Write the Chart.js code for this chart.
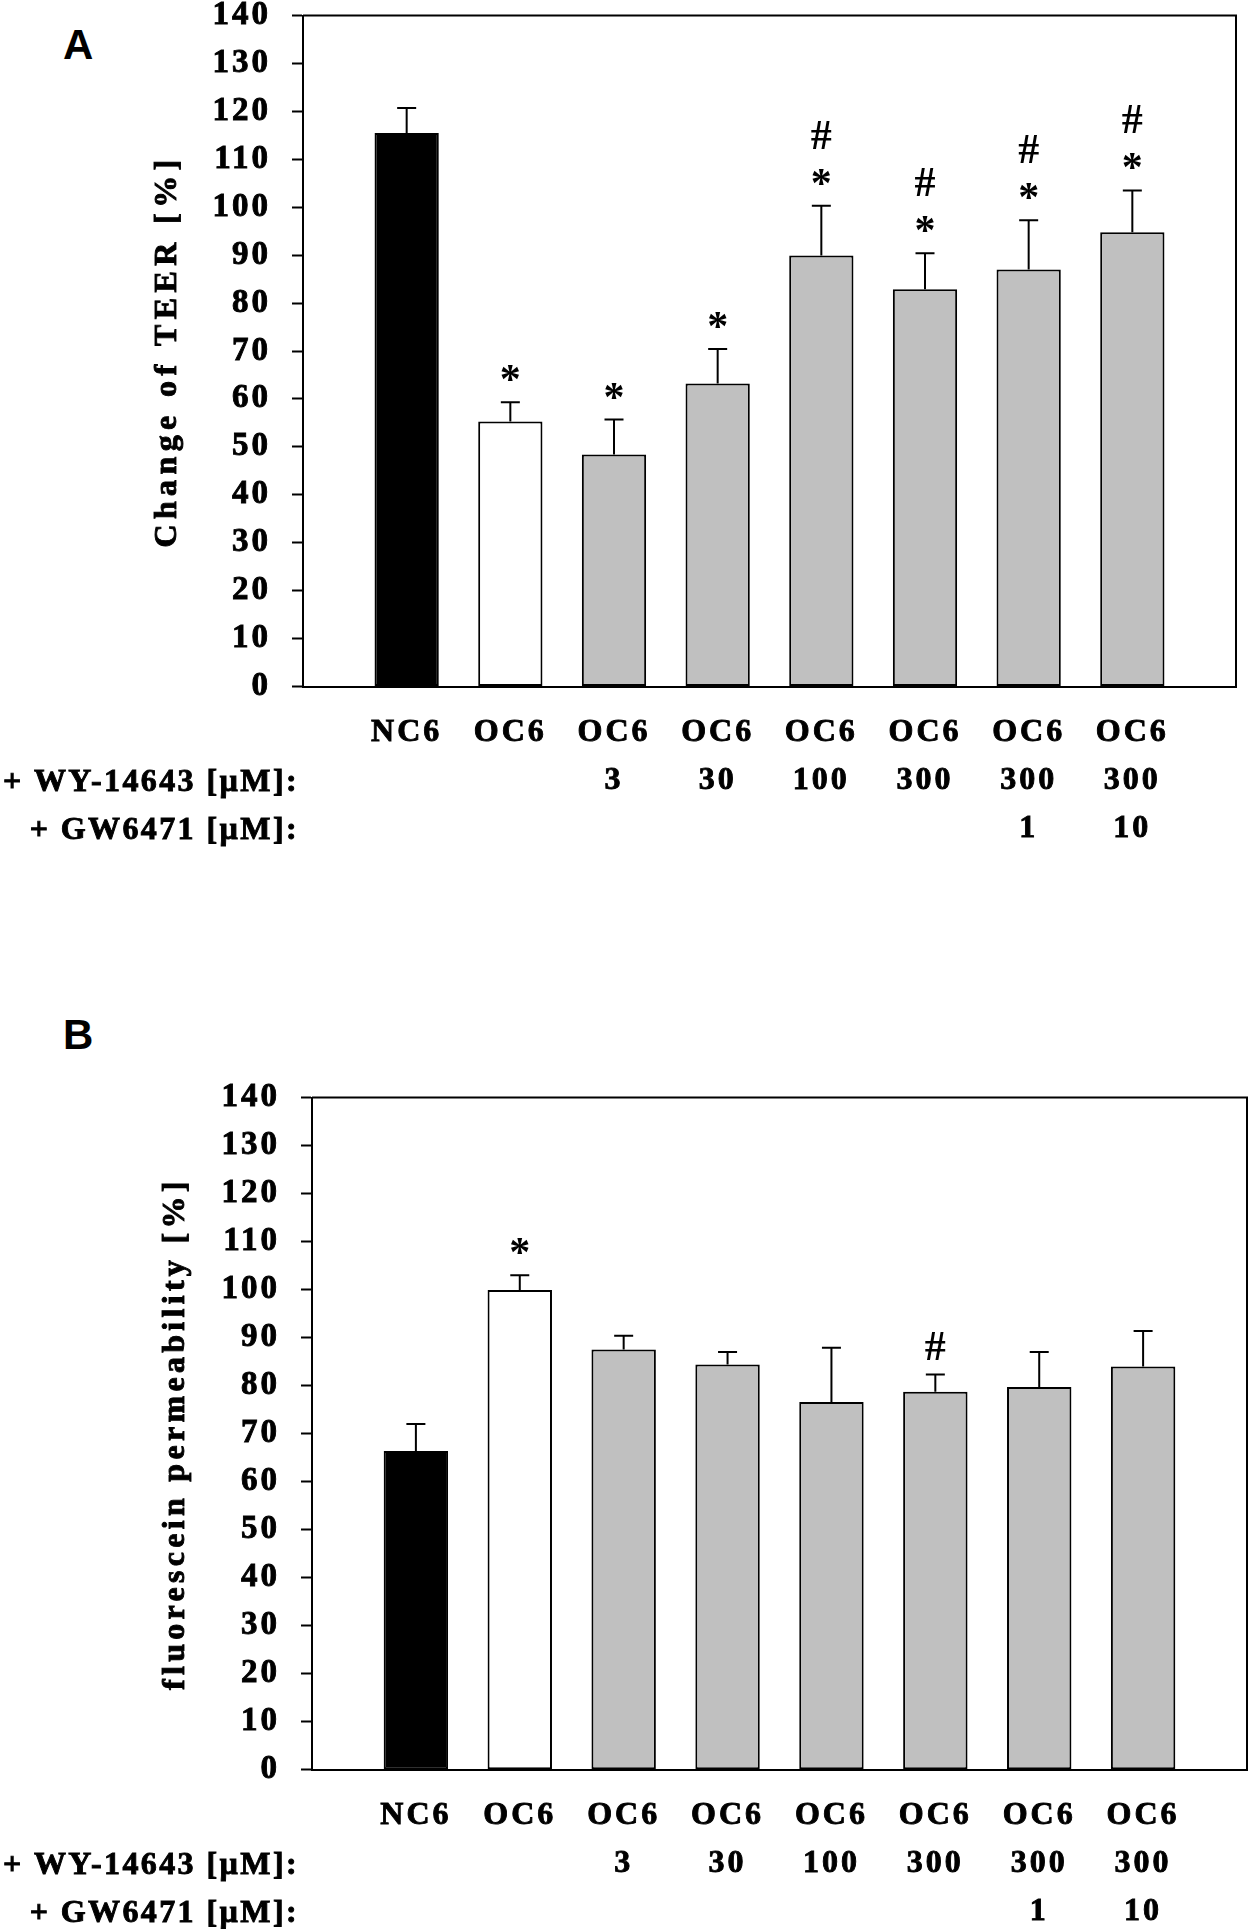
<!DOCTYPE html>
<html>
<head>
<meta charset="utf-8">
<script src="https://cdn.jsdelivr.net/npm/chart.js@4.4.1/dist/chart.umd.min.js"></script>
<style>
  html, body { margin: 0; padding: 0; background: #fff; }
  body { position: relative; width: 1249px; height: 1929px; overflow: hidden; }
  .panel { position: absolute; left: 0; }
  .tag { position: absolute; left: 63px; font: bold 42px "Liberation Sans", Arial, sans-serif; line-height: 1; }
  .warm { position: absolute; left: -500px; top: 0; font: bold 32px "Liberation Serif"; }
</style>
</head>
<body>
<div class="warm">NC6 0123456789 *#</div>
<div class="tag" style="top:24px">A</div>
<div class="tag" style="top:1014px">B</div>
<div class="panel" style="top:-22.5px"><canvas id="chartA" width="1249" height="880"></canvas></div>
<div class="panel" style="top:1060.2px"><canvas id="chartB" width="1249" height="869"></canvas></div>
<script>
// groups on the x axis
const categories = ['NC6', 'OC6', 'OC6', 'OC6', 'OC6', 'OC6', 'OC6', 'OC6'];
const wyDose = ['', '', '3', '30', '100', '300', '300', '300'];
const gwDose = ['', '', '', '', '', '', '1', '10'];
const rowNames = ['+ WY-14643 [\u00b5M]:', '+ GW6471 [\u00b5M]:'];
const barColors = ['#000000', '#ffffff', '#c0c0c0', '#c0c0c0', '#c0c0c0', '#c0c0c0', '#c0c0c0', '#c0c0c0'];

// panel A: change of TEER [%]
const teerMean = [115.5, 55.3, 48.4, 63.2, 89.9, 82.9, 87.0, 94.8];
const teerSd = [5.2, 4.0, 7.3, 7.2, 10.4, 7.5, 10.3, 8.7];
const teerStar = ['', '*', '*', '*', '*', '*', '*', '*'];
const teerHash = ['', '', '', '', '#', '#', '#', '#'];

// panel B: fluorescein permeability [%]
const permMean = [66.4, 99.9, 87.5, 84.4, 76.6, 78.7, 79.7, 84.0];
const permSd = [5.6, 3.1, 2.9, 2.6, 11.3, 3.6, 7.3, 7.4];
const permStar = ['', '*', '', '', '', '', '', ''];
const permHash = ['', '', '', '', '', '#', '', ''];

const yMin = 0, yMax = 140, yStep = 10;

const SERIF = '"Liberation Serif", serif';
const TICK_GAP = 22;
const LINE_H = 48;

function boldText(ctx, t, x, y) {
  ctx.fillText(t, x, y);
  ctx.strokeText(t, x, y);
}

const extras = {
  id: 'extras',
  beforeDraw(chart) {
    chart.ctx.letterSpacing = '3px';
  },
  afterDatasetsDraw(chart, args, o) {
    const ctx = chart.ctx;
    const y = chart.scales.y;
    const meta = chart.getDatasetMeta(0);
    ctx.save();
    ctx.strokeStyle = '#000';
    ctx.lineWidth = 2;
    ctx.fillStyle = '#000';
    ctx.font = 'bold 42px ' + SERIF;
    ctx.textAlign = 'center';
    ctx.textBaseline = 'alphabetic';
    ctx.letterSpacing = '0px';
    meta.data.forEach((bar, i) => {
      const top = y.getPixelForValue(o.mean[i] + o.sd[i]);
      ctx.beginPath();
      ctx.moveTo(bar.x, bar.y);
      ctx.lineTo(bar.x, top);
      ctx.moveTo(bar.x - 9.5, top);
      ctx.lineTo(bar.x + 9.5, top);
      ctx.stroke();
      let cy = top - 29;
      o.marks.forEach(m => {
        if (!m[i]) return;
        ctx.fillText(m[i], bar.x, cy + (m[i] === '*' ? 20 : 14));
        cy -= 42;
      });
    });
    ctx.restore();
  },
  afterDraw(chart, args, o) {
    const ctx = chart.ctx;
    const a = chart.chartArea;
    const x = chart.scales.x;
    ctx.save();
    ctx.strokeStyle = '#000';
    ctx.lineWidth = 2;
    ctx.beginPath();
    ctx.moveTo(a.left, a.top);
    ctx.lineTo(a.right, a.top);
    ctx.lineTo(a.right, a.bottom);
    ctx.stroke();

    ctx.fillStyle = '#000';
    ctx.lineWidth = 0.9;
    ctx.font = 'bold 32px ' + SERIF;
    ctx.letterSpacing = '2.4px';
    ctx.textAlign = 'right';
    ctx.textBaseline = 'middle';
    rowNames.forEach((t, i) => {
      boldText(ctx, t, o.rowRight, x.top + TICK_GAP + LINE_H / 2 + (i + 1) * LINE_H + 2);
    });

    ctx.letterSpacing = o.titleSpacing + 'px';
    ctx.textAlign = 'center';
    ctx.translate(o.titleX, (a.top + a.bottom) / 2);
    ctx.rotate(-Math.PI / 2);
    boldText(ctx, o.title, 0, 0);
    ctx.restore();
    ctx.letterSpacing = '0px';
  }
};

function drawPanel(id, mean, sd, marks, o) {
  return new Chart(document.getElementById(id), {
    type: 'bar',
    data: {
      datasets: [{
        data: mean.map((v, i) => ({ x: i, y: v })),
        backgroundColor: barColors,
        borderColor: '#000',
        borderWidth: 2,
        borderSkipped: false,
        barPercentage: 0.62,
        categoryPercentage: 1
      }]
    },
    options: {
      responsive: false,
      animation: false,
      layout: { padding: { left: 0, right: o.padRight, top: 0, bottom: 0 } },
      plugins: {
        legend: { display: false },
        tooltip: { enabled: false },
        extras: {
          mean: mean, sd: sd, marks: marks,
          title: o.title, titleX: o.titleX, titleSpacing: o.titleSpacing,
          rowRight: 299
        }
      },
      scales: {
        x: {
          type: 'linear',
          min: -1,
          max: categories.length,
          offset: false,
          grid: { display: true, drawOnChartArea: false, drawTicks: true, tickLength: TICK_GAP, tickColor: 'rgba(0,0,0,0)' },
          border: { color: '#000', width: 2 },
          ticks: {
            stepSize: 1,
            autoSkip: false,
            maxRotation: 0,
            padding: 0,
            color: '#000',
            textStrokeColor: '#000',
            textStrokeWidth: 0.9,
            font: { family: SERIF, size: 32, weight: 'bold', lineHeight: LINE_H / 32 },
            callback: v => (v >= 0 && v < categories.length) ? [categories[v], wyDose[v], gwDose[v]] : ''
          },
          afterFit: s => { s.height = o.xHeight; }
        },
        y: {
          min: yMin,
          max: yMax,
          grid: { drawOnChartArea: false, drawTicks: true, tickLength: 11, tickColor: '#000', tickWidth: 2 },
          border: { color: '#000', width: 2 },
          ticks: {
            stepSize: yStep,
            padding: 21,
            color: '#000',
            textStrokeColor: '#000',
            textStrokeWidth: 0.9,
            font: { family: SERIF, size: 33, weight: 'bold', lineHeight: 1 }
          },
          afterFit: s => { s.width = o.yWidth; }
        }
      }
    },
    plugins: [extras]
  });
}

function drawAll() {
  drawPanel('chartA', teerMean, teerSd, [teerStar, teerHash], {
    title: 'Change of TEER [%]', titleX: 168, titleSpacing: 5.4,
    yWidth: 303, padRight: 13, xHeight: 171.5
  });
  drawPanel('chartB', permMean, permSd, [permStar, permHash], {
    title: 'fluorescein permeability [%]', titleX: 176, titleSpacing: 4.3,
    yWidth: 312, padRight: 2, xHeight: 159.2
  });
}

const fontWait = document.fonts.load('bold 32px "Liberation Serif"');
const timeout = new Promise(r => setTimeout(r, 1500));
Promise.race([fontWait, timeout]).then(drawAll, drawAll);
</script>
</body>
</html>
